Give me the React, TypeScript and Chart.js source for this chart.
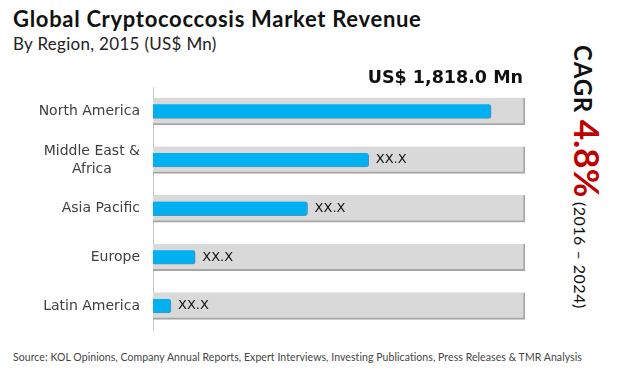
import React, { useEffect, useRef } from "react";
import { Chart, registerables } from "chart.js";

Chart.register(...registerables);

const categories: (string | string[])[] = [
  "North America",
  ["Middle East &", "Africa"],
  "Asia Pacific",
  "Europe",
  "Latin America",
];
const values = [1818, 1160, 831, 227, 97];
const valueLabels = ["US$ 1,818.0 Mn", "XX.X", "XX.X", "XX.X", "XX.X"];
const trackMax = 2000;
const trackValues = categories.map(() => trackMax);

const FONT = "Lato, 'Open Sans', 'DejaVu Sans', sans-serif";
const WIDE = "'DejaVu Sans', sans-serif";

const labelPlugin = {
  id: "valueLabels",
  afterDatasetsDraw(chart: any) {
    const ctx = chart.ctx;
    const meta = chart.getDatasetMeta(1);
    ctx.save();
    meta.data.forEach((bar: any, i: number) => {
      if (i === 0) {
        ctx.font = `bold 17.5px ${WIDE}`;
        ctx.fillStyle = "#111";
        ctx.textAlign = "right";
        ctx.textBaseline = "middle";
        ctx.fillText(valueLabels[i], chart.chartArea.right - 2, chart.chartArea.top - 9);
      } else {
        ctx.font = `13px ${WIDE}`;
        ctx.fillStyle = "#111";
        ctx.textAlign = "left";
        ctx.textBaseline = "middle";
        ctx.fillText(valueLabels[i], bar.x + 7, bar.y);
      }
    });
    // category labels: right-aligned block, lines centred within the block
    const y = chart.scales.y;
    ctx.font = `14px ${WIDE}`;
    ctx.fillStyle = "#404040";
    ctx.textAlign = "center";
    ctx.textBaseline = "middle";
    const right = chart.chartArea.left - 13;
    const lh = 18;
    categories.forEach((c, i) => {
      const lines = Array.isArray(c) ? c : [c];
      const w = Math.max(...lines.map((l) => ctx.measureText(l).width));
      const cy = y.getPixelForTick(i);
      const cx = right - w / 2;
      lines.forEach((l, k) => {
        ctx.fillText(l, cx, cy + (k - (lines.length - 1) / 2) * lh);
      });
    });
    ctx.restore();
  },
};

export default function App() {
  const ref = useRef<HTMLCanvasElement>(null);
  useEffect(() => {
    if (!ref.current) return;
    const chart = new Chart(ref.current, {
      type: "bar",
      data: {
        labels: categories as any,
        datasets: [
          {
            label: "track",
            data: trackValues,
            backgroundColor: "#d9d9d9",
            borderColor: "#a6a6a6",
            borderWidth: { top: 0, left: 0, right: 2, bottom: 2 } as any,
            borderSkipped: false,
            barThickness: 27,
            grouped: false,
            order: 2,
          },
          {
            label: "Revenue",
            data: values,
            backgroundColor: "#00b0f0",
            borderColor: "#4f93b3",
            borderWidth: { top: 0, left: 0, right: 1, bottom: 1 } as any,
            borderSkipped: false,
            borderRadius: { topRight: 3, bottomRight: 3 } as any,
            barThickness: 14,
            grouped: false,
            order: 1,
          },
        ],
      },
      options: {
        indexAxis: "y",
        animation: false,
        responsive: false,
        maintainAspectRatio: false,
        layout: { padding: { top: 32, bottom: 7, right: 5, left: 0 } },
        plugins: { legend: { display: false }, tooltip: { enabled: false } },
        scales: {
          x: { display: false, min: 0, max: trackMax },
          y: {
            grid: { display: false },
            border: { display: true, color: "#c8c8c8", width: 1 },
            ticks: {
              color: "rgba(0,0,0,0)",
              padding: 13,
              font: { family: WIDE, size: 13 },
            },
            afterFit(scale: any) {
              scale.width = 153;
            },
          },
        },
      },
      plugins: [labelPlugin],
    });
    return () => chart.destroy();
  }, []);

  return (
    <div
      style={{
        position: "fixed",
        left: 0,
        top: 0,
        width: 620,
        height: 374,
        background: "#fff",
        fontFamily: FONT,
        overflow: "hidden",
      }}
    >
      <div
        style={{
          position: "absolute",
          left: 13,
          top: 4,
          fontSize: 22,
          fontWeight: 700,
          letterSpacing: 0.7,
          color: "#111",
          whiteSpace: "nowrap",
          lineHeight: "30px",
        }}
      >
        Global Cryptococcosis Market Revenue
      </div>
      <div
        style={{
          position: "absolute",
          left: 13,
          top: 33,
          fontSize: 17,
          letterSpacing: 0.3,
          color: "#222",
          whiteSpace: "nowrap",
          lineHeight: "22px",
        }}
      >
        By Region, 2015 (US$ Mn)
      </div>
      <canvas
        ref={ref}
        width={530}
        height={296}
        style={{ position: "absolute", left: 0, top: 55, width: 530, height: 296 }}
      />
      <div
        style={{
          position: "absolute",
          left: 608,
          top: 45,
          transform: "rotate(90deg)",
          transformOrigin: "left top",
          whiteSpace: "nowrap",
          color: "#111",
          lineHeight: "40px",
        }}
      >
        <span style={{ fontSize: 24, fontWeight: 700, letterSpacing: 0.8 }}>CAGR </span>
        <span style={{ fontSize: 35, fontWeight: 700, color: "#c00000" }}>4.8%</span>
        <span style={{ fontSize: 16, letterSpacing: 0.5 }}> (2016 – 2024)</span>
      </div>
      <div
        style={{
          position: "absolute",
          left: 13,
          top: 351,
          fontSize: 10.5,
          letterSpacing: 0.07,
          color: "#444",
          whiteSpace: "nowrap",
        }}
      >
        Source: KOL Opinions, Company Annual Reports, Expert Interviews, Investing Publications, Press Releases &amp; TMR Analysis
      </div>
    </div>
  );
}
